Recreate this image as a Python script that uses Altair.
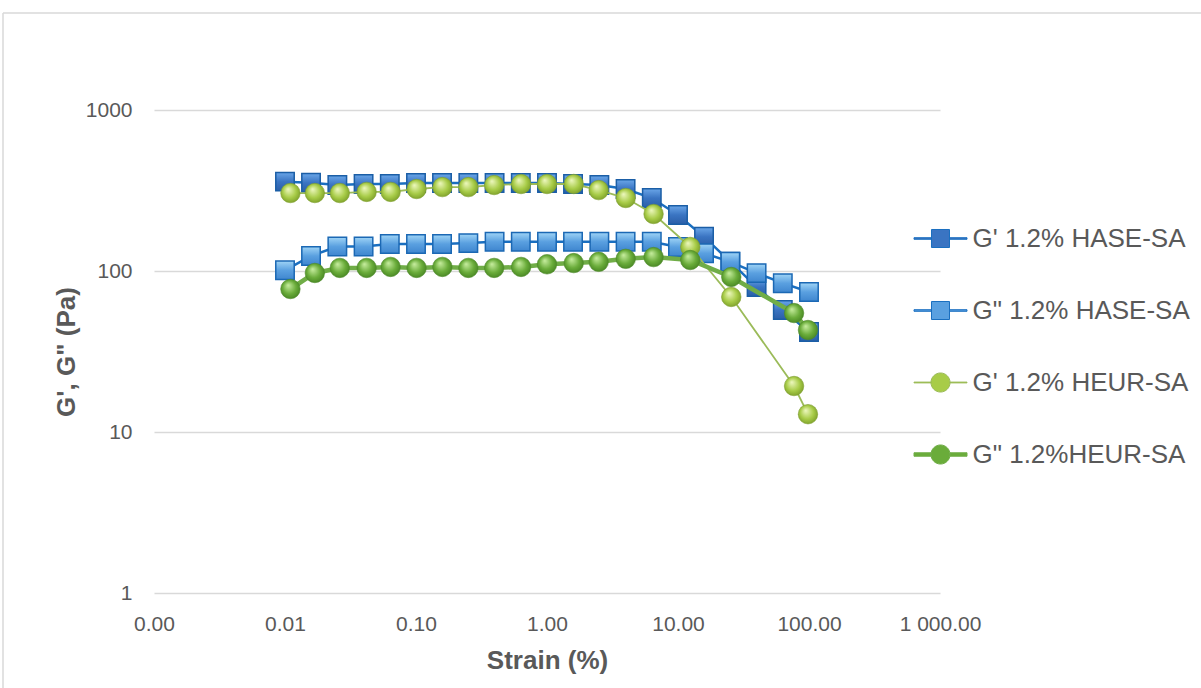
import altair as alt
import pandas as pd

# ---- data ----
hase_strain = [0.01, 0.0158, 0.0251, 0.0398, 0.0631, 0.1, 0.158, 0.251, 0.398, 0.631, 1.0,
               1.58, 2.51, 3.98, 6.31, 10.0, 15.8, 25.1, 39.8, 63.1, 100.0]
hase_gp = [359, 353, 342, 347, 347, 352, 352, 352, 352, 352, 352,
           347, 342, 323, 284, 223, 163, 114, 79.6, 57.3, 41.8]
hase_gpp = [101, 124, 142, 142, 147, 147, 147, 149, 152, 152, 152,
            152, 152, 152, 152, 141, 129, 114, 97, 84, 74]

heur_strain = [0.011, 0.0169, 0.0262, 0.042, 0.064, 0.101, 0.159, 0.251, 0.395, 0.634, 1.0,
               1.6, 2.48, 3.99, 6.51, 12.4, 25.5, 76.9, 98.2]
heur_gp = [305, 305, 305, 310, 310, 323, 332, 332, 342, 347, 347,
           347, 318, 284, 226, 141, 69, 19.3, 12.9]
heur_gpp = [77.3, 97.2, 104.5, 104.5, 106, 104.5, 106, 104.5, 104.5, 106, 110,
            112, 114, 119, 122, 117, 91.8, 54.8, 43]

series_names = ["G' 1.2% HASE-SA", 'G" 1.2% HASE-SA', "G' 1.2% HEUR-SA", 'G" 1.2%HEUR-SA']
x_ticks = [0.001, 0.01, 0.1, 1, 10, 100, 1000]
y_ticks = [1, 10, 100, 1000]

# ---- layout ----
W, H = 786, 483
PL, PT = 154, 110
FONT = "Liberation Sans"
TXT = "#595959"

xscale = alt.Scale(type="log", domain=[0.001, 1000])
yscale = alt.Scale(type="log", domain=[1, 1000])
xaxis = alt.Axis(values=x_ticks, title="Strain (%)", grid=False, domain=False, ticks=False,
                 labelExpr="datum.value >= 1000 ? '1 000.00' : format(datum.value, '.2f')",
                 labelFontSize=21, labelFont=FONT, labelColor=TXT, labelPadding=20,
                 titleFontSize=26, titleFont=FONT, titleColor=TXT, titleFontWeight="bold",
                 titlePadding=13, labelFlush=False, labelOverlap=False)
yaxis = alt.Axis(values=y_ticks, title="G', G\" (Pa)", grid=True, gridColor="#d9d9d9", gridWidth=1.3,
                 domain=False, ticks=False, format="d",
                 labelFontSize=21, labelFont=FONT, labelColor=TXT, labelPadding=22,
                 titleFontSize=26, titleFont=FONT, titleColor=TXT, titleFontWeight="bold",
                 titlePadding=6, labelFlush=False)


def enc(chart):
    return chart.encode(
        x=alt.X("strain:Q", scale=xscale, axis=xaxis),
        y=alt.Y("value:Q", scale=yscale, axis=yaxis),
    )


def df(xs, ys):
    return pd.DataFrame({"strain": xs, "value": ys})


def radial(c0, c1, c2):
    return alt.RadialGradient(gradient="radial", x1=0.38, y1=0.3, r1=0.0, x2=0.5, y2=0.5, r2=0.62,
                              stops=[alt.GradientStop(color=c0, offset=0),
                                     alt.GradientStop(color=c1, offset=0.55),
                                     alt.GradientStop(color=c2, offset=1)])


def linear(c0, c1, c2):
    return alt.LinearGradient(gradient="linear", x1=0, y1=0, x2=0, y2=1,
                              stops=[alt.GradientStop(color=c0, offset=0),
                                     alt.GradientStop(color=c1, offset=0.5),
                                     alt.GradientStop(color=c2, offset=1)])


layers = []

# border of the chart area
frame = alt.Chart(pd.DataFrame({"a": [0]}))
layers.append(frame.mark_rule(color="#d9d9d9", strokeWidth=1.5).encode(
    x=alt.value(3 - PL), x2=alt.value(1210 - PL), y=alt.value(13 - PT)))
layers.append(frame.mark_rule(color="#d9d9d9", strokeWidth=1.5).encode(
    x=alt.value(3 - PL), y=alt.value(13 - PT), y2=alt.value(700 - PT)))

# HASE G'
d = df(hase_strain, hase_gp)
layers.append(enc(alt.Chart(d).mark_line(color="#1a6fc0", strokeWidth=2.5)))
layers.append(enc(alt.Chart(d).mark_point(shape="square", size=340, filled=True, opacity=1,
                                          fill=linear("#6aa6e8", "#3a74c2", "#2b5fa8"),
                                          stroke="#1b5ea6", strokeWidth=1.5)))
# HASE G"
d = df(hase_strain, hase_gpp)
layers.append(enc(alt.Chart(d).mark_line(color="#1a6fc0", strokeWidth=2.5)))
layers.append(enc(alt.Chart(d).mark_point(shape="square", size=340, filled=True, opacity=1,
                                          fill=linear("#9fd4f6", "#5aa0e0", "#3f86cf"),
                                          stroke="#1b68b4", strokeWidth=1.5)))
# HEUR G'
d = df(heur_strain, heur_gp)
layers.append(enc(alt.Chart(d).mark_line(color="#9bbb59", strokeWidth=1.8)))
layers.append(enc(alt.Chart(d).mark_point(shape="circle", size=380, filled=True, opacity=1,
                                          fill=radial("#eef8c0", "#a8cc48", "#6f9120"),
                                          stroke="#7f9f30", strokeWidth=0.6)))
# HEUR G"
d = df(heur_strain, heur_gpp)
layers.append(enc(alt.Chart(d).mark_line(color="#70ad47", strokeWidth=4.5)))
layers.append(enc(alt.Chart(d).mark_point(shape="circle", size=380, filled=True, opacity=1,
                                          fill=radial("#c8eea0", "#6aac3a", "#3d7a1c"),
                                          stroke="#4d8a2a", strokeWidth=0.6)))

# legend (invisible carrier layer)
sq = "M-1,-0.03H-0.34V0.03H-1Z M0.34,-0.03H1V0.03H0.34Z M-0.34,-0.34H0.34V0.34H-0.34Z"
circ_thin = ("M-1,-0.015H-0.36V0.015H-1Z M0.36,-0.015H1V0.015H0.36Z "
             "M-0.36,0A0.36,0.36 0 1,0 0.36,0A0.36,0.36 0 1,0 -0.36,0Z")
circ_thick = ("M-1,-0.065H-0.36V0.065H-1Z M0.36,-0.065H1V0.065H0.36Z "
              "M-0.36,0A0.36,0.36 0 1,0 0.36,0A0.36,0.36 0 1,0 -0.36,0Z")
leg_df = pd.DataFrame({"series": series_names,
                       "strain": [hase_strain[0], hase_strain[0], heur_strain[0], heur_strain[0]],
                       "value": [hase_gp[0], hase_gpp[0], heur_gp[0], heur_gpp[0]]})
leg = alt.Legend(title=None, orient="none", legendX=913.5 - PL, legendY=101.5, symbolSize=2809,
                 symbolStrokeWidth=1, symbolOpacity=1, labelFontSize=26, labelFont=FONT,
                 labelColor=TXT, labelLimit=400, labelOffset=5, rowPadding=32, padding=0)
layers.append(enc(alt.Chart(leg_df).mark_point(opacity=0, filled=True)).encode(
    fill=alt.Fill("series:N", scale=alt.Scale(domain=series_names,
                                              range=["#3a74c2", "#5aa0e0", "#a8cc48", "#6aac3a"]),
                  legend=leg),
    stroke=alt.Stroke("series:N", scale=alt.Scale(domain=series_names,
                                                  range=["#1a6fc0", "#1a6fc0", "#9bbb59", "#70ad47"]),
                      legend=leg),
    shape=alt.Shape("series:N", scale=alt.Scale(domain=series_names,
                                                range=[sq, sq, circ_thin, circ_thick]),
                    legend=leg),
))

chart = alt.layer(*layers).properties(
    width=W, height=H,
    autosize=alt.AutoSizeParams(type="none"),
    padding={"left": PL, "top": PT, "right": 1201 - PL - W, "bottom": 688 - PT - H},
    background="white",
).configure_view(stroke=None)

chart.save("out.html", embed_options={"renderer": "svg", "actions": False})
